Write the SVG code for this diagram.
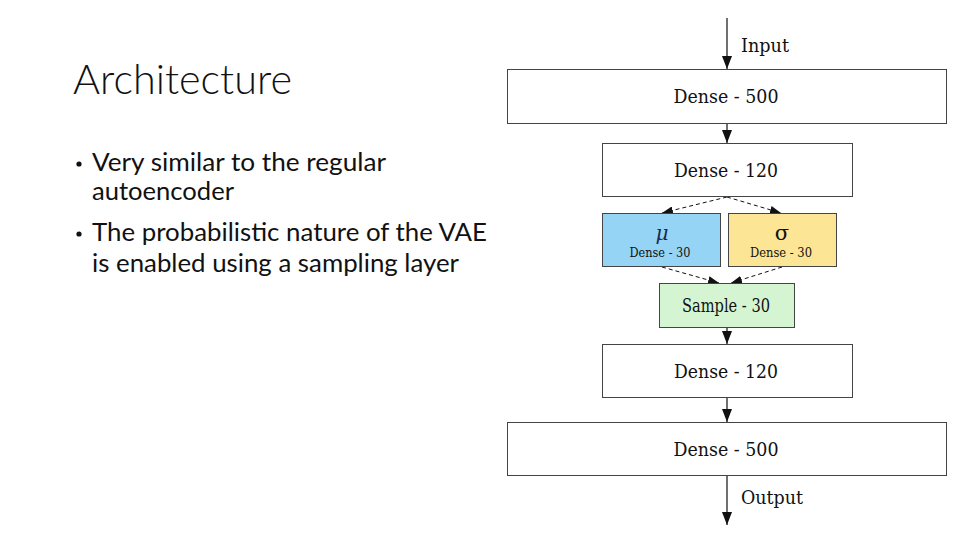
<svg xmlns="http://www.w3.org/2000/svg" width="960" height="540" viewBox="0 0 960 540">
<style>
.title{font-family:Lato,"Open Sans","DejaVu Sans",sans-serif;font-weight:300;font-size:42px;fill:#111}
.body{font-family:Lato,"Open Sans","DejaVu Sans",sans-serif;font-size:25px;fill:#111}
.lbl{font-family:"DejaVu Serif","Liberation Serif",serif;font-size:19px;fill:#111}
.sm{font-family:"DejaVu Serif","Liberation Serif",serif;font-size:13px;fill:#111}
.box{stroke:#444;stroke-width:1}
.solid{stroke:#111;stroke-width:1.2;fill:none}
.dash{stroke:#111;stroke-width:1;stroke-dasharray:4 3;fill:none}
</style>
<defs>
<marker id="ah" markerUnits="userSpaceOnUse" markerWidth="14" markerHeight="10" refX="13" refY="5" orient="auto">
<path d="M0,0 L13,5 L0,10 Z" fill="#111"/>
</marker>
<marker id="ahs" markerUnits="userSpaceOnUse" markerWidth="12" markerHeight="8" refX="11" refY="4" orient="auto">
<path d="M0,0 L11,4 L0,8 Z" fill="#111"/>
</marker>
</defs>
<rect width="960" height="540" fill="#fff"/>
<g id="text-left">
<text class="title" x="73" y="94" textLength="219" lengthAdjust="spacingAndGlyphs">Architecture</text>
<circle cx="79" cy="164" r="2.6" fill="#111"/>
<text class="body" x="92" y="171" textLength="294" lengthAdjust="spacingAndGlyphs">Very similar to the regular</text>
<text class="body" x="92" y="200" textLength="142" lengthAdjust="spacingAndGlyphs">autoencoder</text>
<circle cx="79" cy="234" r="2.6" fill="#111"/>
<text class="body" x="92" y="241" textLength="395" lengthAdjust="spacingAndGlyphs">The probabilistic nature of the VAE</text>
<text class="body" x="92" y="272" textLength="367" lengthAdjust="spacingAndGlyphs">is enabled using a sampling layer</text>
</g>
<g id="connectors">
<line class="solid" x1="727" y1="18" x2="727" y2="69" marker-end="url(#ah)"/>
<line class="solid" x1="727" y1="123" x2="727" y2="143" marker-end="url(#ah)"/>
<line class="dash" x1="727" y1="197" x2="662" y2="213" marker-end="url(#ahs)"/>
<line class="dash" x1="727" y1="197" x2="781" y2="213" marker-end="url(#ahs)"/>
<line class="dash" x1="662" y1="267" x2="719" y2="283" marker-end="url(#ahs)"/>
<line class="dash" x1="782" y1="267" x2="731" y2="283" marker-end="url(#ahs)"/>
<line class="solid" x1="727" y1="328" x2="727" y2="344" marker-end="url(#ah)"/>
<line class="solid" x1="727" y1="398" x2="727" y2="422" marker-end="url(#ah)"/>
<line class="solid" x1="727" y1="476" x2="727" y2="525" marker-end="url(#ah)"/>
<text class="lbl" x="741" y="52" textLength="48" lengthAdjust="spacingAndGlyphs">Input</text>
<text class="lbl" x="741" y="504" textLength="62" lengthAdjust="spacingAndGlyphs">Output</text>
</g>
<g id="dense500-in">
<rect class="box" x="507.5" y="69.5" width="439" height="54" fill="#fff"/>
<text class="lbl" x="726" y="103" text-anchor="middle" textLength="105" lengthAdjust="spacingAndGlyphs">Dense - 500</text>
</g>
<g id="dense120-in">
<rect class="box" x="602.5" y="143.5" width="250" height="53" fill="#fff"/>
<text class="lbl" x="726" y="177" text-anchor="middle" textLength="104" lengthAdjust="spacingAndGlyphs">Dense - 120</text>
</g>
<g id="mu">
<rect class="box" x="602.5" y="213.5" width="118" height="53" fill="#96d4f6"/>
<text x="662" y="240" text-anchor="middle" font-family="'DejaVu Serif',serif" font-style="italic" font-size="20" fill="#1a2a55">μ</text>
<text class="sm" x="660" y="257" text-anchor="middle" textLength="61" lengthAdjust="spacingAndGlyphs">Dense - 30</text>
</g>
<g id="sigma">
<rect class="box" x="728.5" y="213.5" width="108" height="53" fill="#fce594"/>
<text x="782" y="240" text-anchor="middle" font-family="'DejaVu Serif',serif" font-size="21" fill="#111">σ</text>
<text class="sm" x="781" y="257" text-anchor="middle" textLength="62" lengthAdjust="spacingAndGlyphs">Dense - 30</text>
</g>
<g id="sample">
<rect class="box" x="659.5" y="283.5" width="135" height="44" fill="#d5f5d2"/>
<text class="lbl" x="726" y="312" text-anchor="middle" textLength="88" lengthAdjust="spacingAndGlyphs">Sample - 30</text>
</g>
<g id="dense120-out">
<rect class="box" x="602.5" y="344.5" width="250" height="53" fill="#fff"/>
<text class="lbl" x="726" y="378" text-anchor="middle" textLength="104" lengthAdjust="spacingAndGlyphs">Dense - 120</text>
</g>
<g id="dense500-out">
<rect class="box" x="507.5" y="422.5" width="439" height="53" fill="#fff"/>
<text class="lbl" x="726" y="456" text-anchor="middle" textLength="105" lengthAdjust="spacingAndGlyphs">Dense - 500</text>
</g>
</svg>
